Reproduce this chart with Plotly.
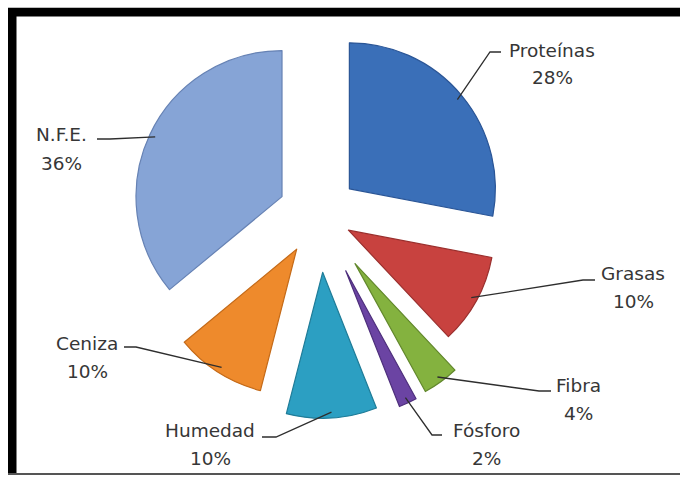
import math
import plotly.graph_objects as go

# Composition data
components = ["Proteínas", "Grasas", "Fibra", "Fósforo", "Humedad", "Ceniza", "N.F.E."]
shares = [28, 10, 4, 2, 10, 10, 36]

# Slice styling
slice_colors = ["#3a6fb8", "#c8423f", "#84b23f", "#6b44a3", "#2c9fc2", "#ee8a2c", "#86a4d6"]
edge_colors = ["#2a5596", "#9a2f2d", "#62882c", "#4e2f7c", "#1f7c98", "#c46a18", "#6682b4"]
explode = [0.27, 0.23, 0.42, 0.43, 0.40, 0.285, 0.28]

W, H = 680, 477
CX, CY, R = 319, 214, 146  # pie centre and radius in pixels

# Label placement (pixels): text centre, leader end next to the text, elbow offset
label_layout = {
    "Proteínas": dict(xy=(552, 50), end=(501, 52), elbow=-11),
    "Grasas": dict(xy=(633, 273), end=(595, 280), elbow=-12),
    "Fibra": dict(xy=(578, 385), end=(551, 391), elbow=-12),
    "Fósforo": dict(xy=(486, 430), end=(442, 435), elbow=-10),
    "Humedad": dict(xy=(210, 430), end=(262, 437), elbow=14),
    "Ceniza": dict(xy=(87, 343), end=(124, 347), elbow=12),
    "N.F.E.": dict(xy=(61, 135), end=(97, 139), elbow=13),
}
PCT_DY = 28

def px(x):
    return x / W

def py(y):
    return 1 - y / H

max_pull = max(explode)
half = R * (1 + max_pull)
domain_x = [px(CX - half), px(CX + half)]
domain_y = [py(CY + half), py(CY - half)]

fig = go.Figure(
    go.Pie(
        labels=components,
        values=shares,
        sort=False,
        direction="clockwise",
        rotation=0,
        pull=explode,
        textinfo="none",
        hoverinfo="skip",
        marker=dict(colors=slice_colors, line=dict(color=edge_colors, width=1.2)),
        domain=dict(x=domain_x, y=domain_y),
        showlegend=False,
    )
)

total = sum(shares)
annotations = []
shapes = []
font = dict(family="DejaVu Sans, Open Sans, sans-serif", size=18.5, color="#363636")
cum = 0
for name, v, p in zip(components, shares, explode):
    theta = math.radians(360 * (cum + v / 2) / total)
    cum += v
    dx, dy = math.sin(theta), -math.cos(theta)
    ax = CX + R * (p + 0.96) * dx
    ay = CY + R * (p + 0.96) * dy
    lay = label_layout[name]
    ex, ey = lay["end"]
    bx = ex + lay["elbow"]
    shapes.append(dict(
        type="path", xref="paper", yref="paper",
        path=f"M {px(ax)} {py(ay)} L {px(bx)} {py(ey)} L {px(ex)} {py(ey)}",
        line=dict(color="#2e2e2e", width=1.3),
    ))
    tx, ty = lay["xy"]
    annotations.append(dict(x=px(tx), y=py(ty), xref="paper", yref="paper", text=name,
                            showarrow=False, xanchor="center", yanchor="middle", font=font))
    annotations.append(dict(x=px(tx), y=py(ty + PCT_DY), xref="paper", yref="paper",
                            text=f"{round(v / total * 100)}%",
                            showarrow=False, xanchor="center", yanchor="middle", font=font))

# Frame: heavy top and left edges, thin bottom rule
shapes += [
    dict(type="rect", xref="paper", yref="paper", x0=px(8), x1=px(680), y0=py(16.5), y1=py(8),
         fillcolor="black", line=dict(width=0), layer="above"),
    dict(type="rect", xref="paper", yref="paper", x0=px(8), x1=px(16.5), y0=py(475), y1=py(8),
         fillcolor="black", line=dict(width=0), layer="above"),
    dict(type="line", xref="paper", yref="paper", x0=px(8), x1=px(680), y0=py(474), y1=py(474),
         line=dict(color="#555555", width=2)),
    dict(type="line", xref="paper", yref="paper", x0=px(8), x1=px(680), y0=py(7.5), y1=py(7.5),
         line=dict(color="#bdbdbd", width=1)),
]

fig.update_layout(
    width=W, height=H,
    margin=dict(l=0, r=0, t=0, b=0),
    paper_bgcolor="white", plot_bgcolor="white",
    annotations=annotations,
    shapes=shapes,
)

fig.write_html("out.html")
